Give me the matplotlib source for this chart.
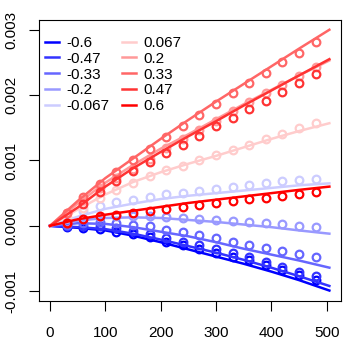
import numpy as np
import matplotlib
matplotlib.use("Agg")
import matplotlib.pyplot as plt

plt.rcParams['font.family'] = ['Liberation Sans', 'DejaVu Sans']

# series labels and colours (blue -> red ramp)
labels = ["-0.6", "-0.47", "-0.33", "-0.2", "-0.067", "0.067", "0.2", "0.33", "0.47", "0.6"]
colors = ["#0000FF", "#3333FF", "#6666FF", "#9999FF", "#CCCCFF",
          "#FFCCCC", "#FF9999", "#FF6666", "#FF3333", "#FF0000"]

# observed points (y in units of 1e-3)
pt_x = [30, 60, 90, 120, 150, 180, 210, 240, 270, 300, 330, 360, 390, 420, 450, 480]
pt_y = {
    "-0.6":   [-0.02, -0.03, -0.05, -0.09, -0.13, -0.17, -0.24, -0.29, -0.35, -0.41, -0.47, -0.53, -0.60, -0.67, -0.75, -0.83],
    "-0.47":  [-0.01, 0.00, -0.01, -0.04, -0.08, -0.13, -0.19, -0.24, -0.30, -0.36, -0.42, -0.48, -0.56, -0.63, -0.70, -0.76],
    "-0.33":  [0.02, 0.05, 0.06, 0.05, 0.02, -0.01, -0.06, -0.10, -0.14, -0.19, -0.24, -0.29, -0.34, -0.39, -0.43, -0.48],
    "-0.2":   [0.06, 0.10, 0.13, 0.15, 0.15, 0.15, 0.14, 0.12, 0.10, 0.09, 0.07, 0.06, 0.04, 0.03, 0.00, -0.02],
    "-0.067": [0.12, 0.22, 0.31, 0.36, 0.40, 0.44, 0.49, 0.51, 0.54, 0.57, 0.60, 0.63, 0.65, 0.68, 0.70, 0.72],
    "0.067":  [0.14, 0.28, 0.42, 0.55, 0.66, 0.77, 0.85, 0.92, 1.00, 1.08, 1.16, 1.24, 1.33, 1.41, 1.50, 1.57],
    "0.2":    [0.19, 0.40, 0.58, 0.73, 0.87, 1.03, 1.19, 1.33, 1.47, 1.61, 1.75, 1.90, 2.03, 2.16, 2.29, 2.43],
    "0.33":   [0.20, 0.44, 0.64, 0.82, 1.01, 1.18, 1.36, 1.53, 1.70, 1.87, 2.03, 2.19, 2.34, 2.50, 2.65, 2.81],
    "0.47":   [0.05, 0.33, 0.52, 0.69, 0.84, 0.98, 1.11, 1.24, 1.38, 1.52, 1.65, 1.79, 1.91, 2.05, 2.19, 2.33],
    "0.6":    [0.05, 0.10, 0.15, 0.17, 0.20, 0.23, 0.26, 0.29, 0.32, 0.35, 0.38, 0.41, 0.43, 0.46, 0.49, 0.52],
}

# fitted curves (y in units of 1e-3)
fit_x = [0, 50, 100, 150, 200, 250, 300, 350, 400, 450, 505]
fit_y = {
    "-0.6":   [0, -0.03, -0.07, -0.15, -0.25, -0.36, -0.47, -0.58, -0.70, -0.83, -0.99],
    "-0.47":  [0, -0.02, -0.05, -0.12, -0.21, -0.31, -0.41, -0.52, -0.64, -0.77, -0.92],
    "-0.33":  [0, 0.04, 0.03, -0.02, -0.09, -0.16, -0.25, -0.35, -0.44, -0.53, -0.64],
    "-0.2":   [0, 0.08, 0.12, 0.13, 0.12, 0.09, 0.06, 0.02, -0.02, -0.07, -0.12],
    "-0.067": [0, 0.14, 0.26, 0.34, 0.41, 0.46, 0.50, 0.54, 0.58, 0.62, 0.65],
    "0.067":  [0, 0.25, 0.48, 0.67, 0.82, 0.95, 1.07, 1.20, 1.33, 1.45, 1.57],
    "0.2":    [0, 0.34, 0.66, 0.93, 1.18, 1.40, 1.63, 1.86, 2.08, 2.30, 2.53],
    "0.33":   [0, 0.38, 0.73, 1.03, 1.33, 1.62, 1.90, 2.17, 2.44, 2.71, 3.00],
    "0.47":   [0, 0.28, 0.60, 0.88, 1.13, 1.37, 1.60, 1.84, 2.07, 2.30, 2.55],
    "0.6":    [0, 0.10, 0.17, 0.23, 0.29, 0.35, 0.40, 0.45, 0.50, 0.55, 0.60],
}

fig = plt.figure(figsize=(3.5, 3.5), dpi=100)
ax = fig.add_axes([0.111, 0.14, 0.862, 0.803])

for lab, col in zip(labels, colors):
    ax.plot(fit_x, np.array(fit_y[lab]) * 1e-3, color=col, lw=1.8, label=lab)
    ax.plot(pt_x, np.array(pt_y[lab]) * 1e-3, ls='none', marker='o', ms=5.5,
            mfc='none', mec=col, mew=1.6)

ax.set_xlim(-20.2, 525.2)
ax.set_ylim(-0.00115, 0.00315)
ax.set_xticks([0, 100, 200, 300, 400, 500])
ax.set_yticks([-0.001, 0.0, 0.001, 0.002, 0.003])
ax.set_yticklabels(["-0.001", "0.000", "0.001", "0.002", "0.003"], rotation=90, va='center')
ax.tick_params(axis='both', labelsize=11, length=7, width=0.8)
ax.tick_params(axis='x', pad=11)
ax.tick_params(axis='y', pad=8)
for s in ax.spines.values():
    s.set_linewidth(0.8)

ax.legend(loc='upper left', bbox_to_anchor=(0.0, 0.965), ncol=2, frameon=False,
          fontsize=11, handlelength=0.95, handletextpad=0.45, columnspacing=0.8,
          labelspacing=0.12, borderaxespad=0.0, borderpad=0.4)

fig.savefig("out.png", dpi=100)
